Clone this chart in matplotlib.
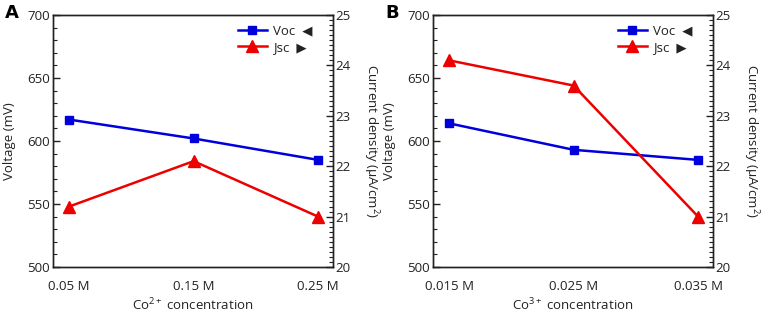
import matplotlib.pyplot as plt
from matplotlib.ticker import MultipleLocator
from matplotlib.lines import Line2D

plt.rcParams['font.family'] = ['Open Sans', 'DejaVu Sans']
plt.rcParams['font.size'] = 9.5
plt.rcParams['mathtext.fontset'] = 'custom'
plt.rcParams['mathtext.rm'] = 'Open Sans'
plt.rcParams['mathtext.default'] = 'regular'

# data
conc_a = ["0.05 M", "0.15 M", "0.25 M"]
voc_a = [617, 602, 585]
jsc_a = [21.2, 22.1, 21.0]

conc_b = ["0.015 M", "0.025 M", "0.035 M"]
voc_b = [614, 593, 585]
jsc_b = [24.1, 23.6, 21.0]

panels = [
    ("A", conc_a, voc_a, jsc_a, "Co$^{2+}$ concentration"),
    ("B", conc_b, voc_b, jsc_b, "Co$^{3+}$ concentration"),
]

txt = "#222222"
blue = "#0000dd"
red = "#ee0000"
fig = plt.figure(figsize=(7.65, 3.15), dpi=100)

lefts = [53 / 765, 433 / 765]
for (tag, cats, voc, jsc, xlabel), left in zip(panels, lefts):
    ax = fig.add_axes([left, 48 / 315, 280 / 765, 252 / 315])
    ax2 = ax.twinx()
    xs = range(len(cats))

    ax.plot(xs, voc, color=blue, lw=1.8, marker="s", ms=5.5)
    ax2.plot(xs, jsc, color=red, lw=1.8, marker="^", ms=8.5)

    ax.set_xlim(-0.13, 2.12)
    ax.set_ylim(500, 700)
    ax2.set_ylim(20, 25)
    ax.set_xticks(list(xs))
    ax.set_xticklabels(cats)
    ax.tick_params(axis="x", length=0, pad=9, colors=txt)

    ax.yaxis.set_major_locator(MultipleLocator(50))
    ax.yaxis.set_minor_locator(MultipleLocator(10))
    ax2.yaxis.set_major_locator(MultipleLocator(1))
    ax2.yaxis.set_minor_locator(MultipleLocator(0.1))
    for a in (ax, ax2):
        a.tick_params(axis="y", which="both", direction="in", colors=txt, pad=2)
        a.tick_params(axis="y", which="major", length=5, width=1)
        a.tick_params(axis="y", which="minor", length=3, width=0.8)
        for s in a.spines.values():
            s.set_color("#222222")
            s.set_linewidth(1.0)

    ax.set_ylabel("Voltage (mV)", color=txt, va="center")
    ax.yaxis.set_label_coords(-0.155, 0.5)
    ax2.set_ylabel("Current density (µA/cm$^2$)", color=txt, rotation=270,
                   va="center", ha="center")
    ax2.yaxis.set_label_coords(1.135, 0.5)
    ax.set_xlabel(xlabel, color=txt, va="center")
    ax.xaxis.set_label_coords(0.5, -0.15)

    handles = [
        Line2D([], [], color=blue, lw=1.8, marker="s", ms=5.5),
        Line2D([], [], color=red, lw=1.8, marker="^", ms=8.5),
    ]
    ax.legend(handles, ["Voc  ◀", "Jsc  ▶"], loc="upper right", frameon=False,
              bbox_to_anchor=(0.97, 1.01), handlelength=2.2, labelspacing=0.25,
              handletextpad=0.5, fontsize=9.5, labelcolor=txt)

    fig.text(left - 41 / 765, 1 - 13 / 315, tag, fontsize=13, fontweight="bold",
             va="center", ha="center", family="DejaVu Sans")

fig.savefig("out.png", dpi=100)
